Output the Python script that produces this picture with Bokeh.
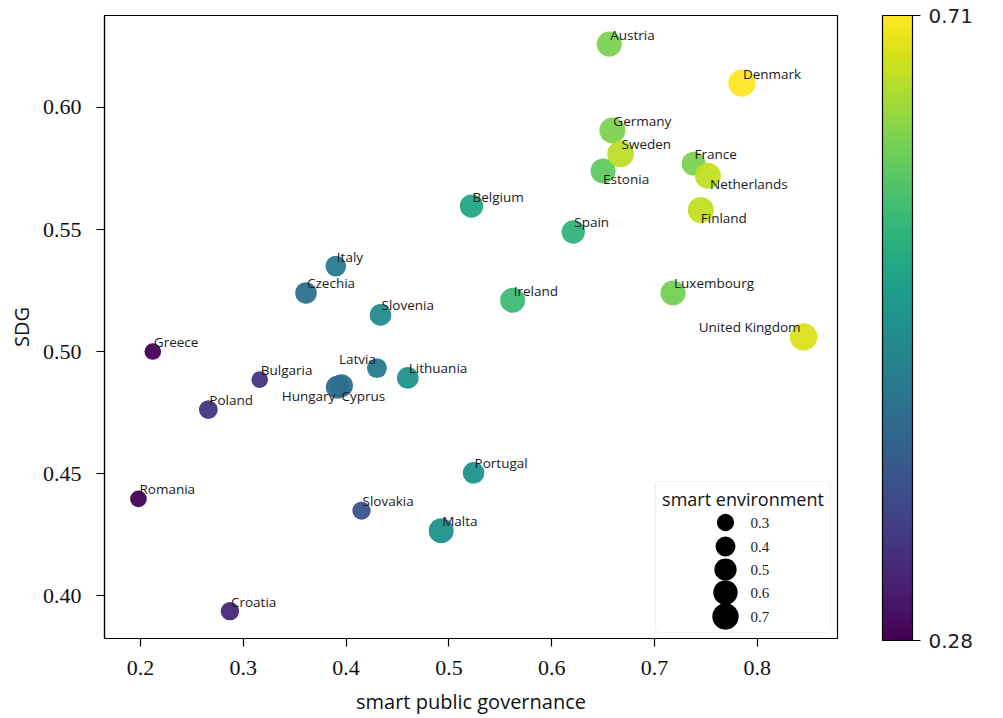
import math
from bokeh.plotting import figure
from bokeh.models import (ColumnDataSource, LinearColorMapper, ColorBar, FixedTicker,
                          PrintfTickFormatter, Range1d, Label, BoxAnnotation)
from bokeh.palettes import Viridis256
from bokeh.transform import linear_cmap
from bokeh.core.properties import value
from bokeh.embed import file_html
from bokeh.resources import INLINE

# ---------------- data ----------------
countries = ["Austria", "Belgium", "Bulgaria", "Croatia", "Czechia", "Denmark",
             "Estonia", "Finland", "France", "Germany", "Greece", "Hungary",
             "Cyprus", "Ireland", "Italy", "Latvia", "Lithuania", "Luxembourg",
             "Malta", "Netherlands", "Poland", "Portugal", "Romania", "Slovakia",
             "Slovenia", "Spain", "Sweden", "United Kingdom"]
smart_public_governance = [0.656, 0.522, 0.316, 0.287, 0.361, 0.785,
                           0.650, 0.745, 0.738, 0.659, 0.212, 0.3915,
                           0.3955, 0.562, 0.390, 0.430, 0.460, 0.718,
                           0.4925, 0.752, 0.266, 0.524, 0.198, 0.415,
                           0.4335, 0.621, 0.667, 0.845]
sdg = [0.626, 0.5596, 0.4885, 0.3936, 0.524, 0.610,
       0.574, 0.558, 0.577, 0.5906, 0.500, 0.4854,
       0.4860, 0.521, 0.535, 0.4932, 0.4892, 0.524,
       0.4266, 0.572, 0.4762, 0.4503, 0.4396, 0.4348,
       0.515, 0.549, 0.581, 0.506]
smart_environment = [0.63, 0.55, 0.28, 0.34, 0.47, 0.75,
                     0.63, 0.68, 0.58, 0.68, 0.28, 0.53,
                     0.53, 0.63, 0.43, 0.40, 0.47, 0.63,
                     0.63, 0.68, 0.36, 0.47, 0.28, 0.34,
                     0.47, 0.55, 0.72, 0.75]
overall_performance = [0.625, 0.54, 0.345, 0.33, 0.44, 0.71,
                       0.605, 0.67, 0.625, 0.625, 0.28, 0.43,
                       0.435, 0.575, 0.455, 0.455, 0.50, 0.62,
                       0.50, 0.67, 0.35, 0.50, 0.28, 0.39,
                       0.485, 0.56, 0.665, 0.685]

legend_values = [0.3, 0.4, 0.5, 0.6, 0.7]
legend_labels = ["0.3", "0.4", "0.5", "0.6", "0.7"]
x_ticks = [0.2, 0.3, 0.4, 0.5, 0.6, 0.7, 0.8]
y_ticks = [0.40, 0.45, 0.50, 0.55, 0.60]
cbar_ticks = [0.28, 0.71]
perf_low, perf_high = 0.28, 0.71

# label placement tweaks (screen px offsets from the dot, alignment)
label_default = (1, -9.5, "left")
label_adjust = {
    "Estonia": (0, 8, "left"),
    "Netherlands": (2, 8, "left"),
    "Finland": (0, 8, "left"),
    "Cyprus": (0, 10, "left"),
    "Hungary": (-2, 8.5, "right"),
    "Latvia": (-1, -9, "right"),
    "United Kingdom": (-3, -9.5, "right"),
}

# ---------------- layout ----------------
W, H = 1003, 718
FL, FR, FT, FB = 104, 837, 15, 638   # frame edges inside figure
X0, X1 = 0.165, 0.878
Y0, Y1 = 0.3824, 0.6377
FW, FH = FR - FL, FB - FT

SANS = "Open Sans"
SERIF = "Liberation Serif"


def size_px(v):
    return 31.5 * math.sqrt(v)


p = figure(width=W, height=H, output_backend="svg", toolbar_location=None,
           x_range=Range1d(X0, X1), y_range=Range1d(Y0, Y1),
           min_border_left=FL, min_border_right=W - FR,
           min_border_top=FT, min_border_bottom=H - FB)
p.grid.visible = False
p.outline_line_color = "black"
p.outline_line_width = 1.2
p.background_fill_color = "white"
p.border_fill_color = "white"

for ax in (p.xaxis[0], p.yaxis[0]):
    ax.axis_line_color = "black"
    ax.axis_line_width = 1.2
    ax.major_tick_out = 8
    ax.major_tick_in = 0
    ax.major_tick_line_color = "black"
    ax.major_tick_line_width = 1.2
    ax.minor_tick_line_color = None
    ax.major_label_text_font = SERIF
    ax.major_label_text_font_size = "22px"
    ax.major_label_text_color = "#111111"
    ax.axis_label_text_font = SANS
    ax.axis_label_text_font_size = "20px"
    ax.axis_label_text_font_style = "normal"
    ax.axis_label_text_color = "#111111"

p.xaxis.ticker = FixedTicker(ticks=x_ticks)
p.xaxis.formatter = PrintfTickFormatter(format="%.1f")
p.xaxis.axis_label = "smart public governance"
p.xaxis.major_label_standoff = 14
p.xaxis.axis_label_standoff = 10
p.yaxis.ticker = FixedTicker(ticks=y_ticks)
p.yaxis.formatter = PrintfTickFormatter(format="%.2f")
p.yaxis.axis_label = "SDG"
p.yaxis.major_label_standoff = 15
p.yaxis.axis_label_standoff = 5

# ---------------- points ----------------
src = ColumnDataSource(dict(
    name=countries, x=smart_public_governance, y=sdg,
    env=smart_environment, perf=overall_performance,
    size=[size_px(v) for v in smart_environment],
))
cmap = linear_cmap("perf", Viridis256, perf_low, perf_high)
p.scatter("x", "y", size="size", source=src, fill_color=cmap, line_color=None,
          fill_alpha=0.95)

# ---------------- labels ----------------
for align in ("left", "right"):
    xs, ys, ts, dxs, dys = [], [], [], [], []
    for n, xv, yv in zip(countries, smart_public_governance, sdg):
        dx, dy, a = label_adjust.get(n, label_default)
        if a != align:
            continue
        xs.append(xv); ys.append(yv); ts.append(n); dxs.append(dx); dys.append(dy)
    ls = ColumnDataSource(dict(x=xs, y=ys, t=ts, dx=dxs, dy=dys))
    p.text("x", "y", text="t", x_offset="dx", y_offset="dy", source=ls,
           text_align=align, text_baseline="middle",
           text_font=value(SANS), text_font_size="13.5px", text_color="#1a1a1a")

# ---------------- size legend ----------------
def fx(px):
    return X0 + px * (X1 - X0) / FW


def fy(py):
    return Y1 - py * (Y1 - Y0) / FH


box = BoxAnnotation(left=fx(551), right=fx(726), top=fy(466), bottom=fy(617),
                    fill_color="white", fill_alpha=0.85,
                    line_color="#cccccc", line_width=1.2, border_radius=4,
                    level="underlay")
p.add_layout(box)
leg_rows = [507, 531, 554, 577, 601]
leg_src = ColumnDataSource(dict(
    x=[fx(621)] * len(legend_values), y=[fy(r) for r in leg_rows],
    size=[size_px(v) for v in legend_values], lab=legend_labels,
    lx=[fx(646)] * len(legend_values)))
p.scatter("x", "y", size="size", source=leg_src, fill_color="black", line_color=None)
p.text("lx", "y", text="lab", source=leg_src, text_baseline="middle",
       text_align="left", text_font=value(SERIF), text_font_size="15px",
       text_color="#222222")
p.add_layout(Label(x=fx(638.5), y=fy(483), text="smart environment",
                   text_align="center", text_baseline="middle",
                   text_font=SANS, text_font_size="18px", text_color="#111111"))

# ---------------- colour bar ----------------
mapper = LinearColorMapper(palette=Viridis256, low=perf_low, high=perf_high)
cb = ColorBar(color_mapper=mapper, ticker=FixedTicker(ticks=cbar_ticks),
              formatter=PrintfTickFormatter(format="%.2f"),
              location=(778, -2), width=30, height=FH + 2,
              padding=0, margin=0, bar_line_color="black", bar_line_width=1.2,
              major_tick_out=8, major_tick_in=0, major_tick_line_color="black",
              major_tick_line_width=1.2, minor_tick_line_color=None,
              label_standoff=8, major_label_text_font="DejaVu Sans",
              major_label_text_font_size="20px", major_label_text_color="#222222",
              background_fill_color=None, border_line_color=None)
p.add_layout(cb)
p.add_layout(Label(x=884, y=FH / 2, x_units="screen", y_units="screen",
                   text="overall performance", angle=math.pi / 2,
                   text_align="center", text_baseline="middle",
                   text_font=SANS, text_font_size="18px", text_color="#111111"))

open("out.html", "w").write(file_html(p, INLINE))
